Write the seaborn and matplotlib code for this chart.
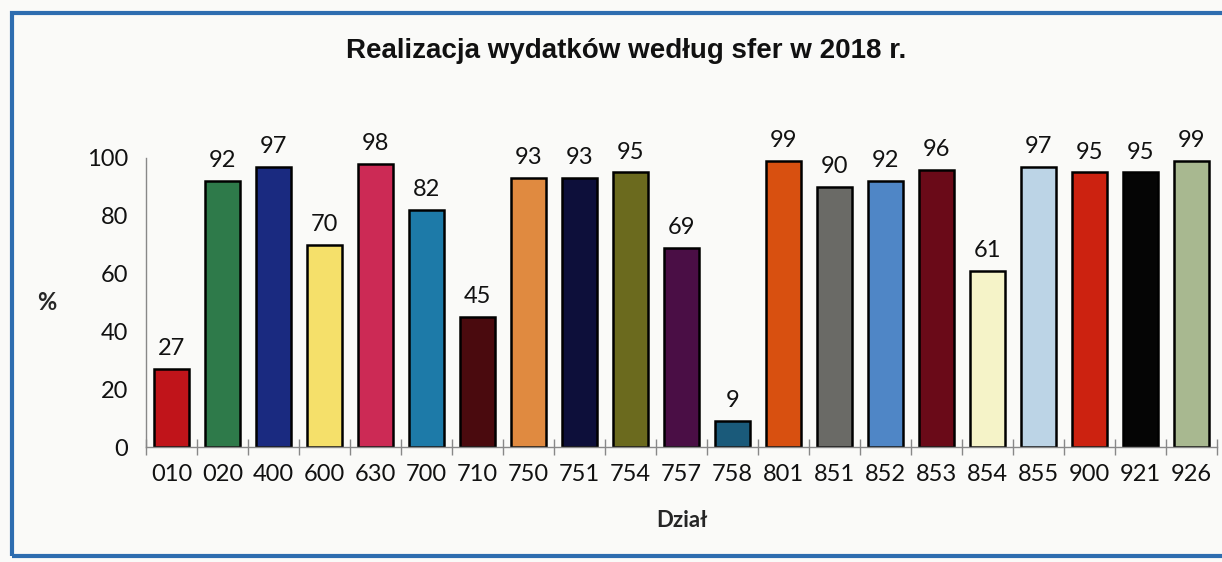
import matplotlib.pyplot as plt
import matplotlib.patches as mpatches
import numpy as np
import pandas as pd
import seaborn as sns

# data
dzialy = ["010", "020", "400", "600", "630", "700", "710", "750", "751", "754", "757",
          "758", "801", "851", "852", "853", "854", "855", "900", "921", "926"]
realizacja = [27, 92, 97, 70, 98, 82, 45, 93, 93, 95, 69,
              9, 99, 90, 92, 96, 61, 97, 95, 95, 99]
kolory = ["#c0141a", "#2e7a4a", "#1a2a80", "#f5e06a", "#cc2a55", "#1d7aa8", "#4a0a0e",
          "#e08a40", "#0d0f3a", "#6b6a1e", "#4a0e45", "#1a5a7a", "#d85010", "#6a6a66",
          "#4f86c6", "#6a0a18", "#f5f3c8", "#bcd4e6", "#cc2210", "#050505", "#a8b890"]
y_ticks = [0, 20, 40, 60, 80, 100]

df = pd.DataFrame({"dzial": dzialy, "proc": realizacja})

sns.set_style("white")
plt.rcParams["font.family"] = ["Lato", "DejaVu Sans"]
plt.rcParams["text.color"] = "#111111"
plt.rcParams["xtick.color"] = "#111111"
plt.rcParams["ytick.color"] = "#111111"

bg = "#fafaf8"
fig = plt.figure(figsize=(12.22, 5.62), dpi=100, facecolor=bg)
ax = fig.add_axes([0.1195, 0.2046, 0.8765, 0.5143])
ax.set_facecolor(bg)

sns.barplot(data=df, x="dzial", y="proc", hue="dzial", palette=kolory, legend=False,
            saturation=1, width=0.69, edgecolor="black", linewidth=1.8, ax=ax)

for i, v in enumerate(realizacja):
    ax.annotate(str(v), (i, v), xytext=(0, 7), textcoords="offset points",
                ha="center", va="bottom", fontsize=17, color="#111111", annotation_clip=False)

ax.set_xlim(-0.5, len(dzialy) - 0.5)
ax.set_ylim(0, 100)
ax.set_yticks(y_ticks)
ax.set_xticks(np.arange(-0.5, len(dzialy)), minor=True)
ax.tick_params(axis="y", direction="inout", length=14, width=1, color="#888888",
               labelsize=17, labelcolor="#111111", pad=6)
ax.tick_params(axis="x", which="major", length=0, labelsize=17, labelcolor="#111111", pad=12)
ax.tick_params(axis="x", which="minor", direction="inout", length=12, width=1,
               color="#888888", bottom=True)

for side in ["top", "right"]:
    ax.spines[side].set_visible(False)
for side in ["left", "bottom"]:
    ax.spines[side].set_color("#888888")
    ax.spines[side].set_linewidth(1)

ax.set_xlabel("Dział", fontsize=16, fontweight="bold", labelpad=18)
ax.set_ylabel("%", fontsize=17, fontweight="bold", rotation=0, va="center")
ax.yaxis.set_label_coords(-0.093, 0.5)

fig.text(0.512, 0.91, "Realizacja wydatków według sfer w 2018 r.", ha="center", va="center",
         fontsize=20, fontweight="bold", family=["Liberation Sans", "DejaVu Sans"])

fig.patches.append(mpatches.Rectangle((12 / 1222, 6 / 562), 1.2, 1 - 19 / 562,
                                      transform=fig.transFigure, fill=False,
                                      edgecolor="#2e6db0", linewidth=3))

fig.savefig("out.png", dpi=100, facecolor=bg)
